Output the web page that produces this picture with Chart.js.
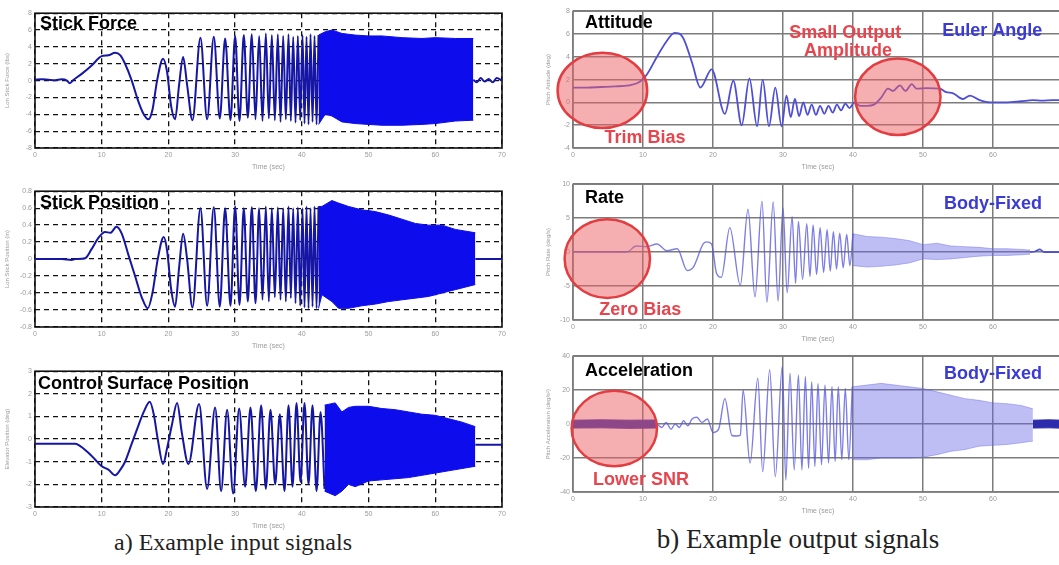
<!DOCTYPE html>
<html>
<head>
<meta charset="utf-8">
<title>Example input and output signals</title>
<script src="https://cdn.jsdelivr.net/npm/chart.js@4.4.1/dist/chart.umd.min.js"></script>
<style>
  html, body { margin: 0; padding: 0; background: #fff; overflow: hidden; }
  body { position: relative; width: 1059px; height: 565px; }
  canvas { position: absolute; }
  .caption {
    position: absolute;
    font-family: "Liberation Serif", "DejaVu Serif", serif;
    color: #222;
    transform: translateX(-50%);
    white-space: nowrap;
  }
</style>
</head>
<body>
<div class="caption" style="left:233px; top:529px; font-size:24px">a) Example input signals</div>
<div class="caption" style="left:798px; top:524px; font-size:27px">b) Example output signals</div>
<script>
// ---- input signals (time in sec) ----
// stick sweep peaks/troughs shared by force and position traces
const stickSweepT = [24.8, 25.8, 26.8, 27.7, 28.5, 29.3, 30.0, 30.65, 31.3, 31.9, 32.5, 33.05,
  33.6, 34.1, 34.6, 35.05, 35.5, 35.95, 36.4, 36.8, 37.2, 37.6, 38.0, 38.35, 38.7, 39.05,
  39.4, 39.75, 40.1, 40.4, 40.7, 41.0, 41.3, 41.6, 41.9, 42.2, 42.5];

const forceT = [0, 1, 2, 3, 4, 4.8, 5.2, 5.8, 7, 8.5, 10, 11, 12, 12.8, 13.5, 14.5, 15.5, 16.3,
  17, 17.6, 18.3, 19.2, 19.8, 20.4, 21, 21.6, 22.2, 22.8, 23.6];
const forceV = [0.1, 0.15, 0.1, 0.05, 0.15, 0.0, -0.3, 0.1, 0.8, 1.8, 2.9, 3.0, 3.3, 3.0, 2.0, 0.0,
  -2.5, -4.0, -4.6, -3.5, 0.0, 2.6, 1.0, -3.0, -4.6, -0.5, 2.8, -0.5, -4.7];
const forceSweepV = [5.1, -4.6, 5.2, -4.5, 5.0, -4.7, 5.3, -4.8, 5.4, -4.4, 5.5, -4.6, 5.3, -4.8,
  5.6, -4.5, 5.4, -4.7, 5.5, -4.9, 5.3, -4.6, 5.5, -4.8, 5.2, -5.0, 5.3, -4.7, 5.4, -5.1, 5.2,
  -5.2, 5.5, -4.9, 5.3, -5.2, 5.4];
const forceBandT = [42.5, 43.5, 44.5, 46, 48, 50, 52, 55, 58, 60, 63, 65.7];
const forceBandHi = [5.4, 5.8, 6.0, 5.6, 5.4, 5.3, 5.3, 5.1, 5.0, 5.1, 5.0, 5.0];
const forceBandLo = [-5.2, -4.0, -4.2, -4.9, -5.1, -5.2, -5.3, -5.3, -5.2, -5.1, -4.8, -4.7];
const forceTailT = [65.7, 66.2, 66.8, 67.4, 68, 68.6, 69.2, 70];
const forceTailV = [0.1, -0.2, 0.3, -0.1, 0.2, -0.2, 0.3, 0.0];

const posT = [0, 2, 4, 5.5, 6, 7.5, 8.5, 9.5, 10.5, 11.3, 12.2, 13, 14, 15, 16, 16.9, 17.6, 18.4,
  19.3, 19.8, 20.4, 21, 21.6, 22.2, 22.8, 23.6];
const posV = [0, 0, 0, -0.01, 0, 0.01, 0.12, 0.25, 0.32, 0.31, 0.38, 0.3, 0.05, -0.2, -0.45, -0.58,
  -0.4, 0.0, 0.26, 0.1, -0.35, -0.56, -0.1, 0.3, 0.0, -0.57];
const posSweepV = [0.6, -0.55, 0.61, -0.56, 0.6, -0.55, 0.62, -0.54, 0.6, -0.5, 0.61, -0.52, 0.6,
  -0.48, 0.62, -0.5, 0.6, -0.45, 0.61, -0.48, 0.6, -0.5, 0.62, -0.46, 0.6, -0.52, 0.61, -0.55,
  0.6, -0.57, 0.62, -0.58, 0.6, -0.56, 0.62, -0.58, 0.62];
const posBandT = [42.5, 43, 44.5, 45.5, 47, 49, 51, 53, 55, 57, 59, 61, 63, 66];
const posBandHi = [0.62, 0.62, 0.69, 0.66, 0.62, 0.58, 0.56, 0.52, 0.47, 0.42, 0.40, 0.40, 0.35, 0.31];
const posBandLo = [-0.58, -0.42, -0.5, -0.58, -0.58, -0.55, -0.53, -0.5, -0.48, -0.46, -0.44, -0.4, -0.36, -0.3];
const posTailT = [66, 70];
const posTailV = [0, 0];

const ctrlT = [0, 3, 6, 6.5, 8, 9, 10, 11, 12, 12.8, 13.5, 14.5, 15.5, 16.3, 17.2, 17.8, 18.4,
  19.2, 19.8, 20.5, 21.3, 22.0, 23.0, 24.6, 25.8, 27.0, 27.9, 28.8, 29.7, 30.6, 31.5, 32.3, 33.1,
  33.9, 34.6, 35.3, 36.0, 36.7, 37.4, 38.0, 38.6, 39.2, 39.8, 40.4, 41.0, 41.6, 42.2, 42.8, 43.4];
const ctrlV = [-0.2, -0.2, -0.2, -0.25, -0.6, -0.9, -1.2, -1.35, -1.6, -1.35, -1.0, -0.2, 0.6, 1.2,
  1.65, 1.1, 0.0, -1.1, -0.4, 0.6, 1.6, 0.3, -1.1, 1.55, -2.2, 1.4, -2.3, 1.3, -2.4, 1.35, -2.1,
  1.4, -2.3, 1.5, -2.2, 1.3, -2.0, 1.1, -2.3, 1.5, -2.1, 1.6, -1.9, 1.6, -2.0, 1.5, -2.3, 1.2, -2.2];
const ctrlBandT = [43.4, 45, 46, 47, 48, 50, 52, 54, 56, 58, 60, 62, 64, 66];
const ctrlBandHi = [1.5, 1.6, 1.2, 1.4, 1.45, 1.45, 1.35, 1.3, 1.2, 1.1, 1.05, 0.9, 0.75, 0.55];
const ctrlBandLo = [-2.3, -2.5, -2.3, -2.0, -2.1, -1.85, -1.8, -1.75, -1.7, -1.6, -1.5, -1.4, -1.3, -1.2];
const ctrlTailT = [66, 70];
const ctrlTailV = [-0.25, -0.25];

// ---- output signals ----
const attT = [0, 2, 4, 6, 8, 9.5, 10.5, 12, 13.3, 14.5, 15.7, 17, 18.2, 19.8, 21.7, 22.9, 24.1,
  25.2, 26.3, 27.1, 28.0, 28.9, 29.8, 30.5, 31.1, 31.7, 32.3, 32.9, 33.5, 34.1, 34.7, 35.3, 35.9,
  36.5, 37.1, 37.7, 38.3, 38.9, 39.5, 40.2, 41.0, 42.0, 43.0, 44.0, 45.0, 45.7, 46.7, 47.5, 48.4,
  49.1, 50.5, 52.4, 53.3, 54.3, 55.7, 56.7, 58.1, 59.6, 62, 64, 65.7, 67, 68.5, 70];
const attV = [1.3, 1.3, 1.35, 1.4, 1.5, 1.8, 2.4, 4.0, 5.3, 6.1, 5.7, 3.5, 1.3, 2.9, -1.0, 1.9,
  -2.0, 2.1, -2.1, 2.0, -2.1, 1.3, -2.1, 0.6, -1.3, 0.3, -1.2, 0.0, -1.1, -0.2, -1.1, -0.3, -1.0,
  -0.3, -0.9, -0.2, -0.7, -0.1, -0.5, 0.0, -0.3, -0.3, -0.2, 0.4, 1.2, 1.0, 1.5, 1.0, 1.6, 1.2,
  1.25, 1.2, 0.9, 0.8, 0.3, 0.6, 0.2, 0.0, 0.0, 0.1, 0.2, 0.15, 0.2, 0.2];

const rateT = [0, 3, 6, 7.8, 9, 10.5, 12, 13.4, 14.9, 16.3, 17.2, 18.6, 19.1, 19.8, 20.5, 21.2,
  22.4, 23.9, 25.0, 26.0, 27.0, 27.7, 28.6, 29.3, 30.0, 30.6, 31.3, 31.8, 32.2, 32.8, 33.4, 33.85,
  34.3, 34.8, 35.3, 35.8, 36.3, 36.75, 37.2, 37.65, 38.1, 38.6, 39.1, 39.55, 40.0];
const rateV = [0, 0, 0, 0.05, 0.9, 0.8, 1.2, 0.2, 0.5, -2.7, -2.2, 1.2, 1.5, 1.2, -3.1, -3.7, 3.6,
  -4.9, 6.3, -6.6, 7.5, -7.4, 7.4, -7.2, 6.5, -6.0, 5.2, -4.6, 4.5, -4.0, 4.2, -3.6, 4.0, -3.3,
  3.6, -3.0, 3.3, -2.8, 3.0, -2.5, 2.8, -2.3, 2.6, -2.0, 2.7];
const rateBandT = [40, 42, 44, 46, 48, 50, 52, 54, 56, 58, 60, 62, 64, 65.3];
const rateBandHi = [2.7, 2.3, 2.2, 2.0, 1.7, 1.1, 1.3, 0.9, 0.8, 0.7, 0.5, 0.5, 0.4, 0.3];
const rateBandLo = [-2.0, -2.2, -2.1, -1.9, -1.6, -1.0, -1.1, -1.0, -0.8, -0.6, -0.5, -0.5, -0.4, -0.3];
const rateTailT = [65.3, 66, 66.7, 67.3, 68, 70];
const rateTailV = [0, 0.1, 0.4, 0.0, 0.0, 0.0];

const accNoiseT = [0, 4, 8, 12];
const accNoiseHi = [2.3, 2.5, 2.3, 2.4];
const accNoiseLo = [-2.3, -2.2, -2.5, -2.3];
const accT = [12, 12.7, 13.3, 14.0, 14.6, 15.2, 15.8, 16.4, 17.0, 17.7, 18.4, 19.2, 20.0, 20.8,
  21.7, 22.7, 23.4, 23.9, 24.3, 25.3, 26.4, 27.1, 28.1, 28.9, 29.9, 30.4, 31.0, 31.6, 32.2, 32.7,
  33.2, 33.65, 34.1, 34.55, 35.0, 35.5, 36.0, 36.5, 37.0, 37.45, 37.9, 38.4, 38.9, 39.4, 39.9];
const accV = [0, -2, 1, -3, 0, -2, 2, -1, 3, 4, 1, 3, -5, -3, 15, -6.7, -7, -6.5, 20, -23, 27, -28,
  32, -31, 34, -33, 30, -27, 29, -27, 28, -26, 25, -25, 24, -24, 23, -23, 22, -22, 22, -21, 21, -21, 22];
const accBandT = [39.9, 42, 44, 46, 48, 50, 52, 54, 56, 58, 60, 62, 64, 65.7];
const accBandHi = [22, 23, 24, 23, 22, 21, 19, 17, 15, 14, 12.5, 12, 11, 9];
const accBandLo = [-21, -21, -20, -20, -20, -19.5, -18, -16, -15, -13, -12.5, -12, -11, -10];
const accTailT = [65.7, 68, 70];
const accTailHi = [2.3, 2.5, 2.3];
const accTailLo = [-2.3, -2.2, -2.4];

// ---- styling ----
const RED = "#e6454e";
const BLUE_TXT = "#3a3ad4";
const INPUT_LINE = "rgb(22,22,165)";
const INPUT_FILL = "rgb(12,12,236)";
const OUT_LINE = "rgb(78,78,214)";
const OUT_THIN = "rgba(82,82,222,0.75)";
const OUT_FILL = "rgba(100,100,228,0.42)";
const OUT_NOISE = "rgb(44,44,172)";

const pts = (ts, vs) => ts.map((t, i) => ({ x: t, y: vs[i] }));

// smooth traces: monotone cubic keeps the peaks rounded without overshoot
const line = (ts, vs, color, width) => ({
  data: pts(ts, vs),
  borderColor: color,
  borderWidth: width,
  pointRadius: 0,
  fill: false,
  cubicInterpolationMode: "monotone",
});

// dense part of a sweep, drawn as the band between its upper and lower envelopes
const band = (ts, hi, lo, color) => [
  { data: pts(ts, hi), borderColor: color, backgroundColor: color, borderWidth: 1, pointRadius: 0, fill: "+1", tension: 0 },
  { data: pts(ts, lo), borderColor: color, borderWidth: 1, pointRadius: 0, fill: false, tension: 0 },
];

const tickFont = { family: "Arial", size: 7 };

const makePanel = (p) => {
  const [left, top, w, h] = p.plot;
  const canvas = document.createElement("canvas");
  canvas.width = p.axisW + w + p.padRight;
  canvas.height = p.padTop + h + p.axisH;
  canvas.style.left = `${left - p.axisW}px`;
  canvas.style.top = `${top - p.padTop}px`;
  document.body.appendChild(canvas);

  const matlab = p.style === "matlab";
  const gridColor = matlab ? "#111" : "#7c7c7c";
  const tickColor = "#9a9a9a";

  const notes = {
    id: "notes",
    beforeDatasetsDraw(chart) {
      const { ctx, chartArea: a } = chart;
      ctx.save();
      ctx.strokeStyle = gridColor;
      ctx.lineWidth = matlab ? 1.6 : 1.5;
      ctx.strokeRect(a.left, a.top, a.right - a.left, a.bottom - a.top);
      ctx.restore();
    },
    afterDatasetsDraw(chart) {
      const { ctx } = chart;
      const xs = chart.scales.x;
      const ys = chart.scales.y;
      ctx.save();
      (p.circles || []).forEach((c) => {
        const cx = xs.getPixelForValue(c.t);
        const cy = ys.getPixelForValue(c.v);
        const rx = Math.abs(xs.getPixelForValue(c.t + c.rt) - cx);
        const ry = Math.abs(ys.getPixelForValue(c.v + c.rv) - cy);
        ctx.beginPath();
        ctx.ellipse(cx, cy, rx, ry, 0, 0, Math.PI * 2);
        ctx.fillStyle = "rgba(238,96,100,0.5)";
        ctx.fill();
        ctx.lineWidth = 2.5;
        ctx.strokeStyle = "rgb(226,62,66)";
        ctx.stroke();
      });
      ctx.font = "bold 18px Arial";
      ctx.textBaseline = "middle";
      (p.labels || []).forEach((l) => {
        ctx.fillStyle = l.color || "#000";
        ctx.textAlign = l.align || "center";
        ctx.fillText(l.text, xs.getPixelForValue(l.t), ys.getPixelForValue(l.v));
      });
      ctx.restore();
    },
  };

  new Chart(canvas, {
    type: "line",
    data: { datasets: p.datasets },
    plugins: [notes],
    options: {
      responsive: false,
      animation: false,
      events: [],
      layout: { padding: { top: p.padTop, right: p.padRight, left: 0, bottom: 0 } },
      plugins: { legend: { display: false }, tooltip: { enabled: false } },
      scales: {
        x: {
          type: "linear",
          min: 0,
          max: 70,
          afterFit: (s) => { s.height = p.axisH; },
          ticks: { stepSize: 10, autoSkip: false, maxRotation: 0, padding: 3, color: tickColor, font: tickFont },
          grid: { color: gridColor, lineWidth: matlab ? 1.3 : 1.5, drawTicks: false },
          border: { display: false, dash: matlab ? [5, 4] : [] },
          title: { display: true, text: "Time (sec)", color: tickColor, font: tickFont, padding: 5 },
        },
        y: {
          min: p.yMin,
          max: p.yMax,
          afterFit: (s) => { s.width = p.axisW; },
          ticks: { stepSize: p.yStep, autoSkip: false, padding: 3, color: tickColor, font: tickFont },
          grid: { color: gridColor, lineWidth: matlab ? 1.3 : 1.5, drawTicks: false },
          border: { display: false, dash: matlab ? [5, 4] : [] },
          title: { display: true, text: p.yTitle, color: tickColor, font: { family: "Arial", size: 6 }, padding: matlab ? 4 : 2 },
        },
      },
    },
  });
};

const inputBox = { style: "matlab", axisW: 35, padTop: 6, padRight: 12, axisH: 28 };
const outputBox = { style: "excel", axisW: 30, padTop: 6, padRight: 10, axisH: 28 };

makePanel({
  ...inputBox,
  plot: [35, 12, 467, 136],
  yMin: -8, yMax: 8, yStep: 2,
  yTitle: "Lon Stick Force (lbs)",
  datasets: [
    line(forceT.concat(stickSweepT), forceV.concat(forceSweepV), INPUT_LINE, 2),
    ...band(forceBandT, forceBandHi, forceBandLo, INPUT_FILL),
    line(forceTailT, forceTailV, INPUT_LINE, 2),
  ],
  labels: [{ text: "Stick Force", t: 0.75, v: 6.7, align: "left" }],
});

makePanel({
  ...inputBox,
  plot: [35, 190, 467, 137],
  yMin: -0.8, yMax: 0.8, yStep: 0.2,
  yTitle: "Lon Stick Position (in)",
  datasets: [
    line(posT.concat(stickSweepT), posV.concat(posSweepV), INPUT_LINE, 2),
    ...band(posBandT, posBandHi, posBandLo, INPUT_FILL),
    line(posTailT, posTailV, INPUT_LINE, 2),
  ],
  labels: [{ text: "Stick Position", t: 0.75, v: 0.66, align: "left" }],
});

makePanel({
  ...inputBox,
  plot: [35, 370, 467, 137],
  yMin: -3, yMax: 3, yStep: 1,
  yTitle: "Elevator Position (deg)",
  datasets: [
    line(ctrlT, ctrlV, INPUT_LINE, 2),
    ...band(ctrlBandT, ctrlBandHi, ctrlBandLo, INPUT_FILL),
    line(ctrlTailT, ctrlTailV, INPUT_LINE, 2),
  ],
  labels: [{ text: "Control Surface Position", t: 0.45, v: 2.43, align: "left" }],
});

makePanel({
  ...outputBox,
  plot: [573, 10, 490, 138],
  yMin: -4, yMax: 8, yStep: 2,
  yTitle: "Pitch Attitude (deg)",
  datasets: [line(attT, attV, OUT_LINE, 1.8)],
  circles: [
    { t: 4.2, v: 1.05, rt: 6.4, rv: 3.3 },
    { t: 46.4, v: 0.5, rt: 6.1, rv: 3.35 },
  ],
  labels: [
    { text: "Attitude", t: 1.7, v: 7.0, align: "left" },
    { text: "Trim Bias", t: 10.3, v: -3.1, color: RED },
    { text: "Small Output", t: 38.9, v: 6.1, color: RED },
    { text: "Amplitude", t: 39.3, v: 4.5, color: RED },
    { text: "Euler Angle", t: 59.9, v: 6.3, color: BLUE_TXT },
  ],
});

makePanel({
  ...outputBox,
  plot: [573, 183, 490, 137],
  yMin: -10, yMax: 10, yStep: 5,
  yTitle: "Pitch Rate (deg/s)",
  datasets: [
    line(rateT, rateV, OUT_THIN, 1.4),
    ...band(rateBandT, rateBandHi, rateBandLo, OUT_FILL),
    line(rateTailT, rateTailV, OUT_LINE, 1.6),
  ],
  circles: [{ t: 4.9, v: -0.95, rt: 6.1, rv: 5.8 }],
  labels: [
    { text: "Rate", t: 1.7, v: 8.0, align: "left" },
    { text: "Zero Bias", t: 9.6, v: -8.5, color: RED },
    { text: "Body-Fixed", t: 60, v: 7.1, color: BLUE_TXT },
  ],
});

makePanel({
  ...outputBox,
  plot: [573, 355, 490, 137],
  yMin: -40, yMax: 40, yStep: 20,
  yTitle: "Pitch Acceleration (deg/s²)",
  datasets: [
    ...band(accNoiseT, accNoiseHi, accNoiseLo, OUT_NOISE),
    line(accT, accV, OUT_THIN, 1.4),
    ...band(accBandT, accBandHi, accBandLo, OUT_FILL),
    ...band(accTailT, accTailHi, accTailLo, OUT_NOISE),
  ],
  circles: [{ t: 5.9, v: -2.6, rt: 6.1, rv: 22.2 }],
  labels: [
    { text: "Acceleration", t: 1.7, v: 31.2, align: "left" },
    { text: "Lower SNR", t: 9.7, v: -33, color: RED },
    { text: "Body-Fixed", t: 60, v: 29.5, color: BLUE_TXT },
  ],
});
</script>
</body>
</html>
